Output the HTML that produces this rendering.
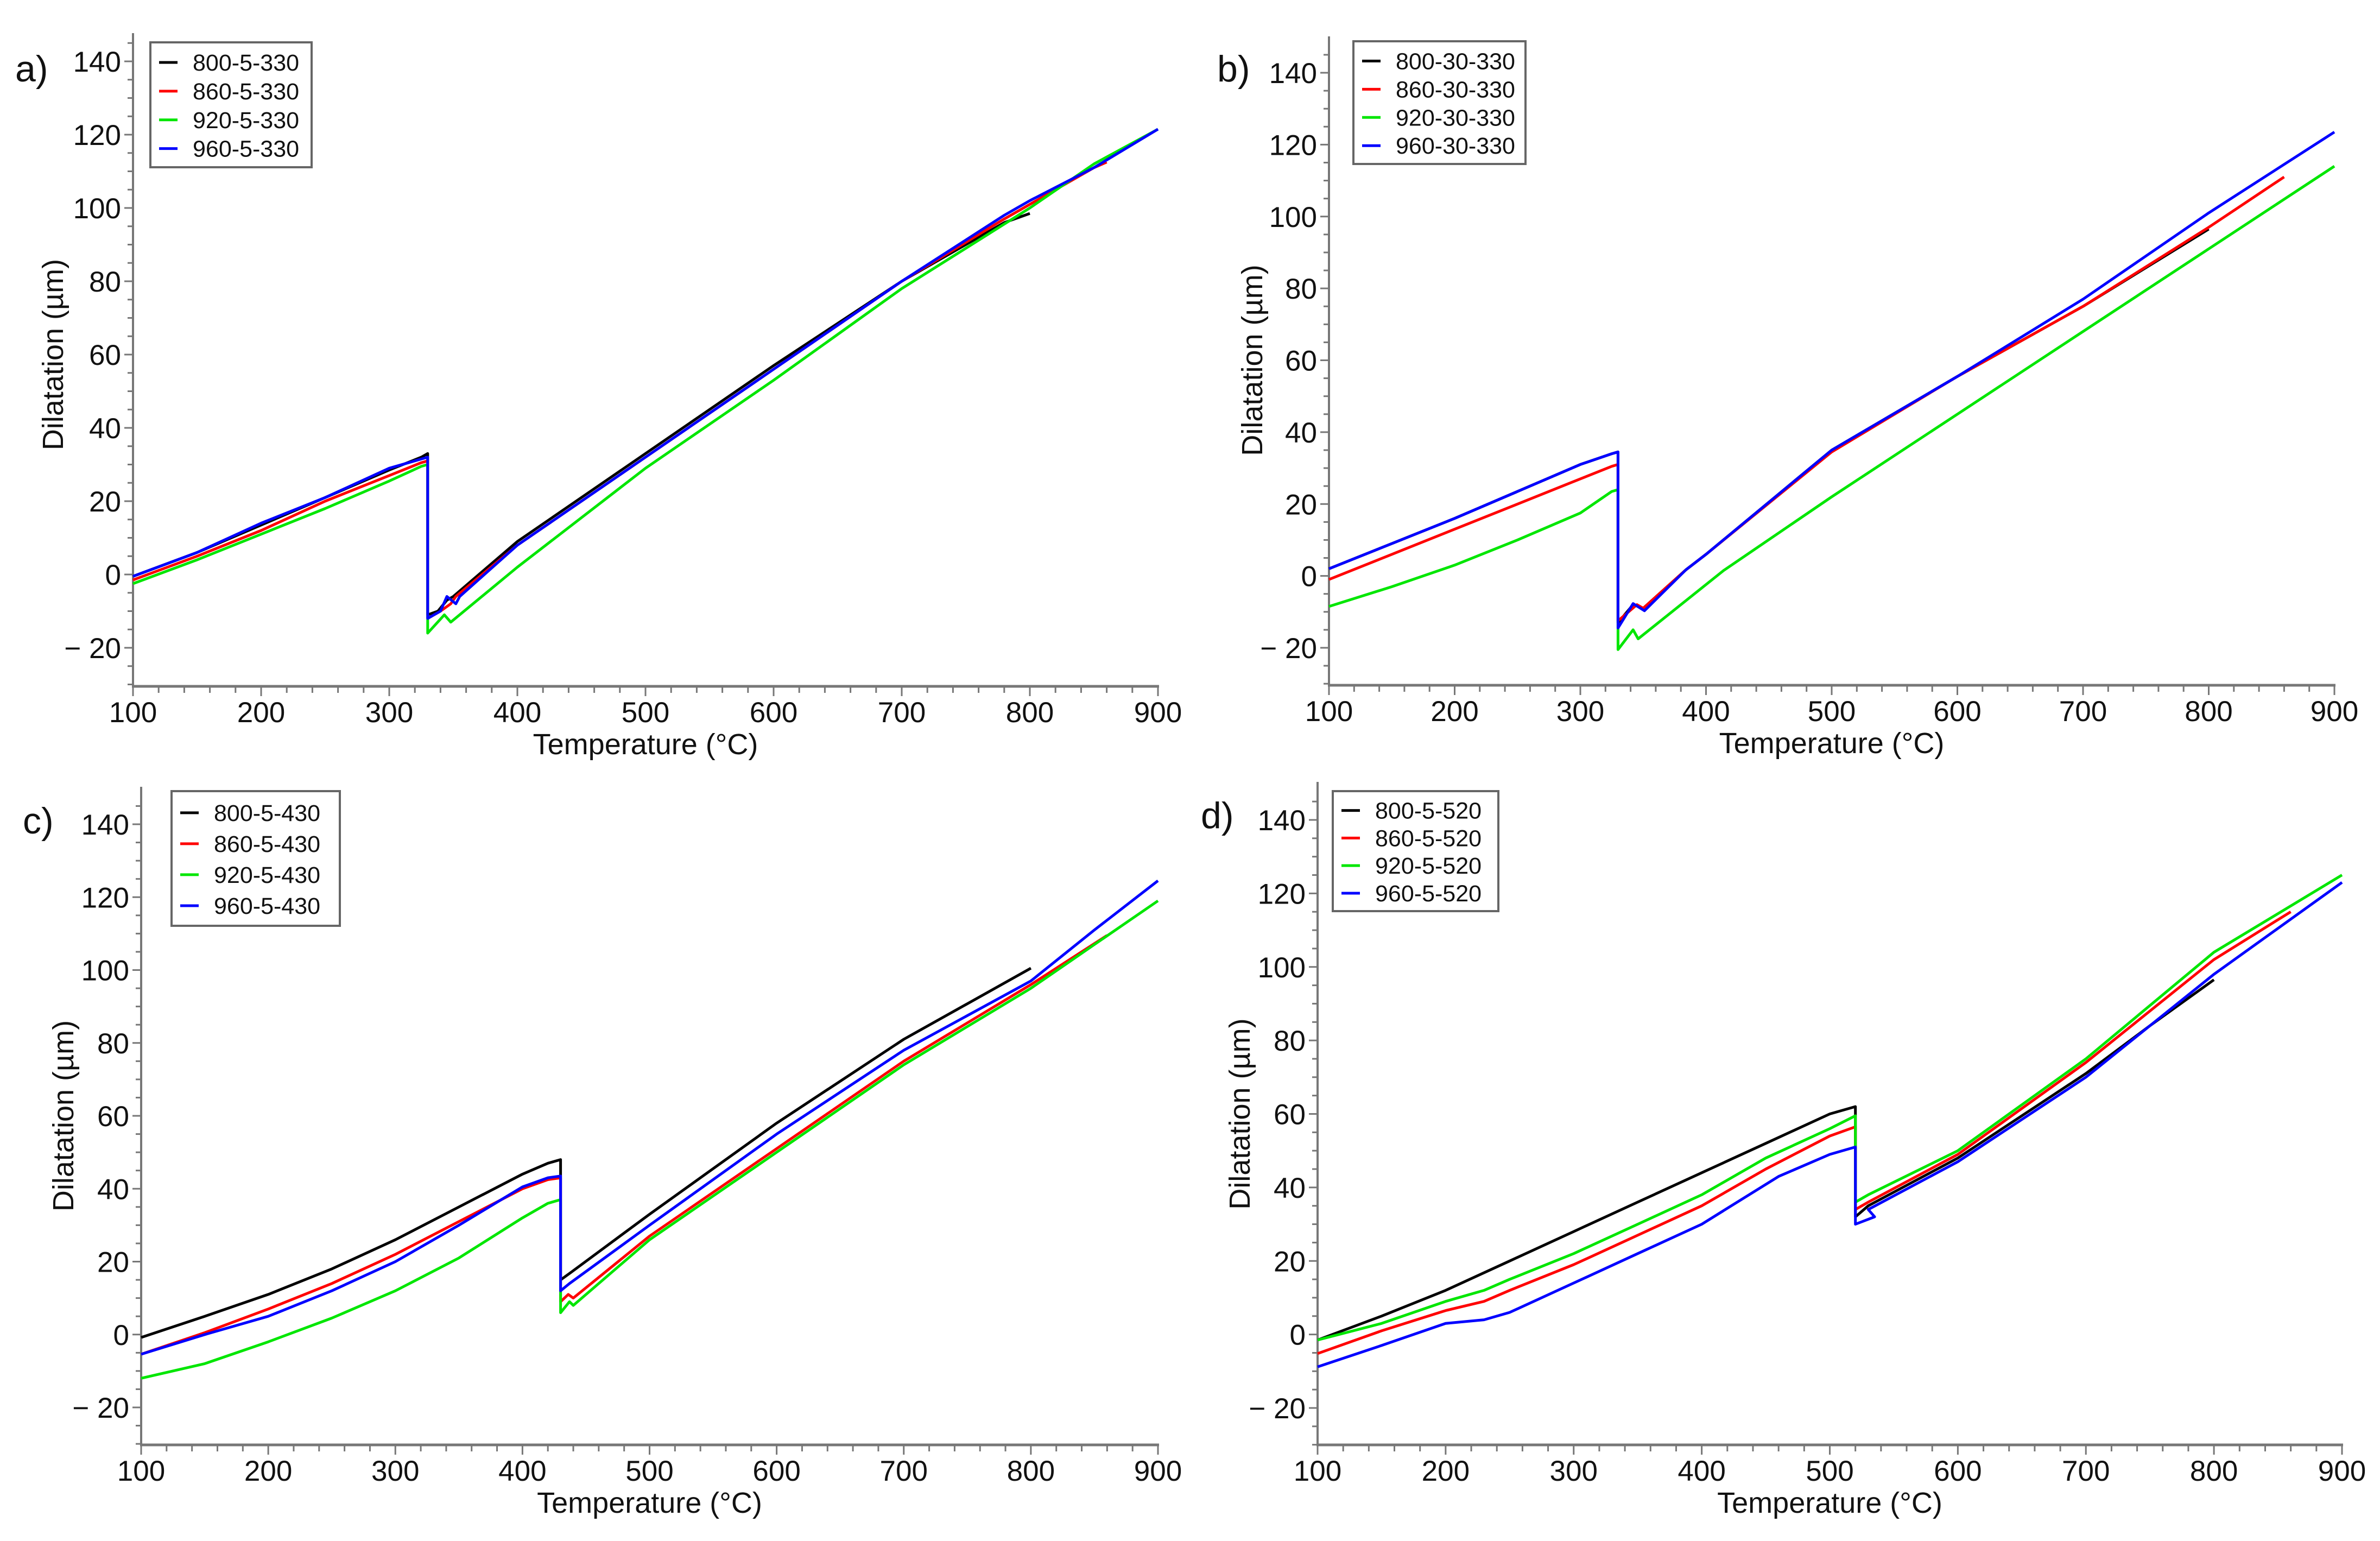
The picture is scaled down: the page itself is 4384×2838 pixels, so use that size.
<!DOCTYPE html>
<html><head><meta charset="utf-8"><style>
html,body{margin:0;padding:0;background:#fff}
svg{display:block}
text{font-family:"Liberation Sans",sans-serif;fill:#111}
</style></head><body>
<svg id="fig" width="4384" height="2838" viewBox="0 0 4384 2838" xmlns="http://www.w3.org/2000/svg"></svg>
<script>
// ---- Data (Temperature °C, Dilatation µm) ----
// Panel a
const aT800=[100,150,200,250,300,325,330,330,338,345,350,400,500,600,700,780,800];
const aD800=[-0.5,6,13.5,21,28.5,32,33,-11,-10,-7,-6,9,33,57,80,96,98.5];
const aT860=[100,150,200,250,300,325,330,330,340,348,352,400,500,600,700,780,850,860];
const aD860=[-1.5,5,12,20,27,30.5,31,-12,-10,-8,-6,8,32,56,80,97,111,112.5];
const aT920=[100,150,200,250,300,325,330,330,343,348,400,500,600,700,800,850,900];
const aD920=[-2.5,4,11,18,25.5,29.5,30,-16,-11,-13,2,29,53,78,100,112,121.5];
const aT960=[100,150,200,250,300,325,330,330,340,345,352,355,400,500,600,700,780,800,850,900];
const aD960=[-0.5,6,14,21,29,31.5,32,-12,-10,-6,-8,-6,8,32,56,80,98,102,111,121.5];
// Panel b
const bT800=[100,150,200,250,300,325,330,330,342,350,384,400,500,600,700,800];
const bD800=[2,9,16,23.5,31,34,34.5,-13,-8,-9,1.7,6,35,55.5,75,96.5];
const bT860=[100,150,200,250,300,325,330,330,345,350,384,400,500,600,700,800,860];
const bD860=[-1,6,13,20,27,30.5,31,-12.5,-8,-9,1.7,6,34.5,55.5,75,97,111];
const bT920=[100,150,200,250,300,325,330,330,342,346,414,500,600,700,800,900];
const bD920=[-8.5,-3,3,10,17.5,23.5,24,-20.5,-15,-17.5,1.5,22,45,68,91,114];
const bT960=[100,150,200,250,300,325,330,330,342,351,384,400,500,600,700,800,900];
const bD960=[2,9,16,23.5,31,34,34.5,-14.5,-7.7,-9.7,1.7,6,35,55.5,77,101,123.5];
// Panel c
const cT800=[100,150,200,250,300,350,400,420,430,430,438,500,600,700,800];
const cD800=[-0.8,5,11,18,26,35,44,47,48,15,17,33,58,81,100.5];
const cT860=[100,150,200,250,300,350,400,420,430,430,436,440,500,600,700,800,860];
const cD860=[-5.4,0.5,7,14,22,31,40,42.5,43,9,11,10,27,51,75,96,109.5];
const cT920=[100,150,200,250,300,350,400,420,430,430,437,440,500,600,700,800,850,900];
const cD920=[-12,-8,-2,4.5,12,21,32,36,37,6,9,8,26,50,74,95,107,119];
const cT960=[100,150,200,250,300,350,400,420,430,430,437,500,600,700,800,850,900];
const cD960=[-5.4,0,5,12,20,30,40.5,43,43.5,12,14,30,55,78,97,111,124.5];
// Panel d
const dT800=[100,150,200,250,300,350,400,450,500,520,520,530,600,700,750,800];
const dD800=[-1.5,5,12,20,28,36,44,52,60,62,32,35,48,71,84,96.5];
const dT860=[100,150,200,230,250,300,350,400,450,500,520,520,530,600,700,800,860];
const dD860=[-5.2,1,6.5,9,12,19,27,35,45,54,56.5,34,36,49,74,102,115];
const dT920=[100,150,200,230,250,300,350,400,450,500,520,520,530,600,700,800,900];
const dD920=[-1.5,3,9,12,15,22,30,38,48,56,59.5,36,38,50,75,104,125];
const dT960=[100,150,200,230,250,300,350,400,460,500,520,520,535,530,600,700,800,900];
const dD960=[-8.8,-3,3,4,6,14,22,30,43,49,51,30,32,34,47,70,98,123];

const seriesColors=["#000000","#ff0000","#00e600","#0000ff"];

const panels=[
 {id:"a",label:"a)",lx:28,ly:150,x0:245,x1:2133,y140:113,ym20:1193,top:61,xa:1264,ytx:98,
  leg:[277,78,574,308],names:["800-5-330","860-5-330","920-5-330","960-5-330"],
  T:[aT800,aT860,aT920,aT960],D:[aD800,aD860,aD920,aD960]},
 {id:"b",label:"b)",lx:2242,ly:150,x0:2448,x1:4300,y140:134,ym20:1193,top:67,xa:1262,ytx:2307,
  leg:[2493,76,2810,302],names:["800-30-330","860-30-330","920-30-330","960-30-330"],
  T:[bT800,bT860,bT920,bT960],D:[bD800,bD860,bD920,bD960]},
 {id:"c",label:"c)",lx:42,ly:1535,x0:260,x1:2133,y140:1518,ym20:2592,top:1449,xa:2661,ytx:117,
  leg:[316,1457,626,1705],names:["800-5-430","860-5-430","920-5-430","960-5-430"],
  T:[cT800,cT860,cT920,cT960],D:[cD800,cD860,cD920,cD960]},
 {id:"d",label:"d)",lx:2212,ly:1525,x0:2427,x1:4314,y140:1510,ym20:2593,top:1440,xa:2661,ytx:2284,
  leg:[2455,1457,2760,1678],names:["800-5-520","860-5-520","920-5-520","960-5-520"],
  T:[dT800,dT860,dT920,dT960],D:[dD800,dD860,dD920,dD960]}
];
const NS="http://www.w3.org/2000/svg";
const svg=document.getElementById("fig");
function mk(tag,attrs,parent){const e=document.createElementNS(NS,tag);for(const k in attrs)e.setAttribute(k,attrs[k]);(parent||svg).appendChild(e);return e;}

panels.forEach(p=>{
 const g=mk("g",{});
 
 
 const sx=t=>p.x0+(t-100)*(p.x1-p.x0)/800;
 const sy=v=>p.y140+(140-v)*(p.ym20-p.y140)/160;
 // panel label
 const pl=mk("text",{x:p.lx,y:p.ly,"font-size":68},g);pl.textContent=p.label;
 
 
 // axes
 const ya=mk("line",{x1:p.x0,y1:p.top,x2:p.x0,y2:p.xa,stroke:"#777","stroke-width":4},g);
 
 
 const xa=mk("line",{x1:p.x0-2,y1:p.xa,x2:p.x1+2,y2:p.xa,stroke:"#777","stroke-width":5},g);
 
 
 // y ticks
 for(let v=-30;v<=145;v+=5){
  const y=sy(v); if(y<p.top-1||y>p.xa) continue;
  const major=v%20===0;
  mk("line",{x1:p.x0-(major?16:10),y1:y,x2:p.x0,y2:y,stroke:"#777","stroke-width":3},g);
  if(major&&v>=-20&&v<=140){
   const t=mk("text",{x:p.x0-22,y:y+19,"font-size":53,"text-anchor":"end"},g);
   t.textContent=v<0?"\u2212 "+Math.abs(v):String(v);
   
   
  }
 }
 // x ticks
 for(let v=100;v<=900;v+=20){
  const x=sx(v);const major=v%100===0;
  mk("line",{x1:x,y1:p.xa,x2:x,y2:p.xa+(major?18:12),stroke:"#777","stroke-width":3},g);
  if(major){
   const t=mk("text",{x:x,y:p.xa+66,"font-size":53,"text-anchor":"middle"},g);
   t.textContent=String(v);
   
   
  }
 }
 // axis titles
 const xt=mk("text",{x:(p.x0+p.x1)/2,y:p.xa+125,"font-size":54,"text-anchor":"middle"},g);
 xt.textContent="Temperature (°C)";
 
 
 const cy=sy(60);
 const yt=mk("text",{x:p.ytx,y:cy,"font-size":54,"text-anchor":"middle",transform:`rotate(-90 ${p.ytx} ${cy})`,dy:18},g);
 yt.textContent="Dilatation (µm)";
 
 
 // series
 p.T.forEach((Ts,i)=>{
  const pts=Ts.map((t,j)=>sx(t).toFixed(1)+","+sy(p.D[i][j]).toFixed(1)).join(" ");
  const pl=mk("polyline",{points:pts,fill:"none",stroke:seriesColors[i],"stroke-width":5,"stroke-linejoin":"round"},g);
  
  
 });
 // legend
 const [lx0,ly0,lx1,ly1]=p.leg;
 const lg=mk("g",{},g);
 
 
 mk("rect",{x:lx0,y:ly0,width:lx1-lx0,height:ly1-ly0,fill:"#fff",stroke:"#666","stroke-width":4},lg);
 const rh=(ly1-ly0)/4.35;
 p.names.forEach((n,i)=>{
  const y=ly0+rh*0.7+i*rh;
  mk("line",{x1:lx0+16,y1:y,x2:lx0+50,y2:y,stroke:seriesColors[i],"stroke-width":5},lg);
  const t=mk("text",{x:lx0+78,y:y+15,"font-size":43},lg);
  t.textContent=n;
  
  
 });
});
</script>
</body></html>
